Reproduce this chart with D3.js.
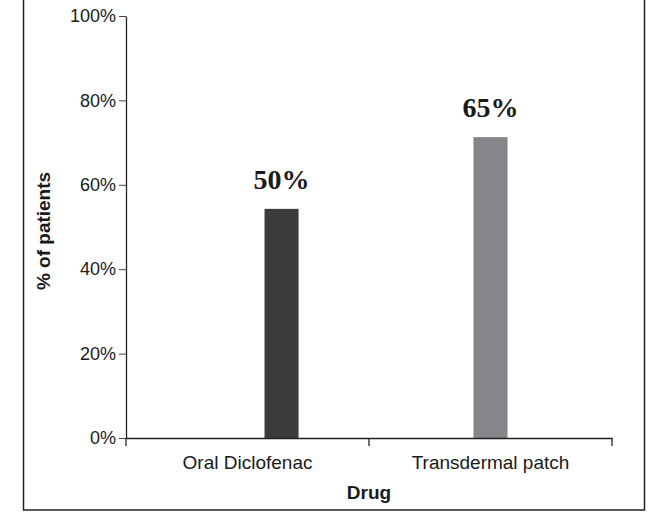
<!DOCTYPE html>
<html>
<head>
<meta charset="utf-8">
<script src="https://cdn.jsdelivr.net/npm/d3@7"></script>
<style>
  body { margin: 0; background: #fff; }
  svg { display: block; }
</style>
</head>
<body>
<div id="chart"></div>
<script>
// data
const categories = ['Oral Diclofenac', 'Transdermal patch'];
const seriesSlots = ['s1', 's2', 's3'];          // clustered slots of the original chart
const barSlot = ['s3', 's2'];                     // slot each drug's bar sits in
const barValues = [54.3, 71.3];                   // bar height, %
const barLabels = ['50%', '65%'];                 // text printed above the bars
const barColors = ['#3b3b3b', '#86868a'];
const yTicks = [0, 20, 40, 60, 80, 100];

const width = 669, height = 515;

const svg = d3.select('#chart')
  .append('svg')
  .attr('width', width)
  .attr('height', height);

// frame round the chart (top edge is cut off in the picture)
svg.append('rect')
  .attr('x', 23.5)
  .attr('y', -5)
  .attr('width', 621)
  .attr('height', 515)
  .attr('fill', 'none')
  .attr('stroke', '#222')
  .attr('stroke-width', 1.5);

const x0 = d3.scaleBand()
  .domain(categories)
  .range([126, 612]);

const x1 = d3.scaleBand()
  .domain(seriesSlots)
  .range([0, x0.bandwidth()])
  .paddingOuter(2.07);

const y = d3.scaleLinear()
  .domain([0, 100])
  .range([438, 16]);

// y axis
const yAxis = svg.append('g')
  .attr('transform', 'translate(126,0)')
  .call(d3.axisLeft(y)
    .tickValues(yTicks)
    .tickFormat(d => d + '%')
    .tickSize(7)
    .tickSizeOuter(0)
    .tickPadding(3));

yAxis.select('.domain').attr('stroke', '#222').attr('stroke-width', 1.3);
yAxis.selectAll('.tick line').attr('stroke', '#444');
yAxis.selectAll('.tick text')
  .attr('fill', '#1a1a1a')
  .style('font-family', 'Liberation Sans, Arial, sans-serif')
  .style('font-size', '18px');

// bars
svg.selectAll('.bar')
  .data(categories)
  .enter()
  .append('rect')
  .attr('class', 'bar')
  .attr('x', (d, i) => x0(d) + x1(barSlot[i]))
  .attr('y', (d, i) => y(barValues[i]))
  .attr('width', x1.bandwidth())
  .attr('height', (d, i) => y(0) - y(barValues[i]))
  .attr('fill', (d, i) => barColors[i]);

// value labels
svg.selectAll('.bar-label')
  .data(categories)
  .enter()
  .append('text')
  .attr('class', 'bar-label')
  .attr('x', (d, i) => x0(d) + x1(barSlot[i]) + x1.bandwidth() / 2)
  .attr('y', (d, i) => y(barValues[i]) - 20)
  .attr('text-anchor', 'middle')
  .attr('fill', '#1a1a1a')
  .style('font-family', 'Liberation Serif, Times New Roman, serif')
  .style('font-weight', 'bold')
  .style('font-size', '28px')
  .text((d, i) => barLabels[i]);

// x axis: labels at band centres, ticks at band edges
const xAxis = svg.append('g')
  .attr('transform', `translate(0,${y(0)})`)
  .call(d3.axisBottom(x0).tickSize(0).tickSizeOuter(0).tickPadding(18));

xAxis.select('.domain').attr('stroke', '#222').attr('stroke-width', 1.3);
xAxis.selectAll('.tick text')
  .attr('fill', '#1a1a1a')
  .style('font-family', 'Liberation Sans, Arial, sans-serif')
  .style('font-size', '19px');

const edges = categories.map(c => x0(c)).concat([x0.range()[1]]);
xAxis.selectAll('.edge')
  .data(edges)
  .enter()
  .append('line')
  .attr('class', 'edge')
  .attr('x1', d => d)
  .attr('x2', d => d)
  .attr('y1', 0)
  .attr('y2', 8)
  .attr('stroke', '#222')
  .attr('stroke-width', 1.3);

// axis titles
svg.append('text')
  .attr('x', (x0.range()[0] + x0.range()[1]) / 2)
  .attr('y', 499)
  .attr('text-anchor', 'middle')
  .attr('fill', '#1a1a1a')
  .style('font-family', 'Liberation Sans, Arial, sans-serif')
  .style('font-weight', 'bold')
  .style('font-size', '19px')
  .text('Drug');

svg.append('text')
  .attr('transform', 'rotate(-90)')
  .attr('x', -231)
  .attr('y', 50)
  .attr('text-anchor', 'middle')
  .attr('fill', '#1a1a1a')
  .style('font-family', 'Liberation Sans, Arial, sans-serif')
  .style('font-weight', 'bold')
  .style('font-size', '19px')
  .text('% of patients');
</script>
</body>
</html>
